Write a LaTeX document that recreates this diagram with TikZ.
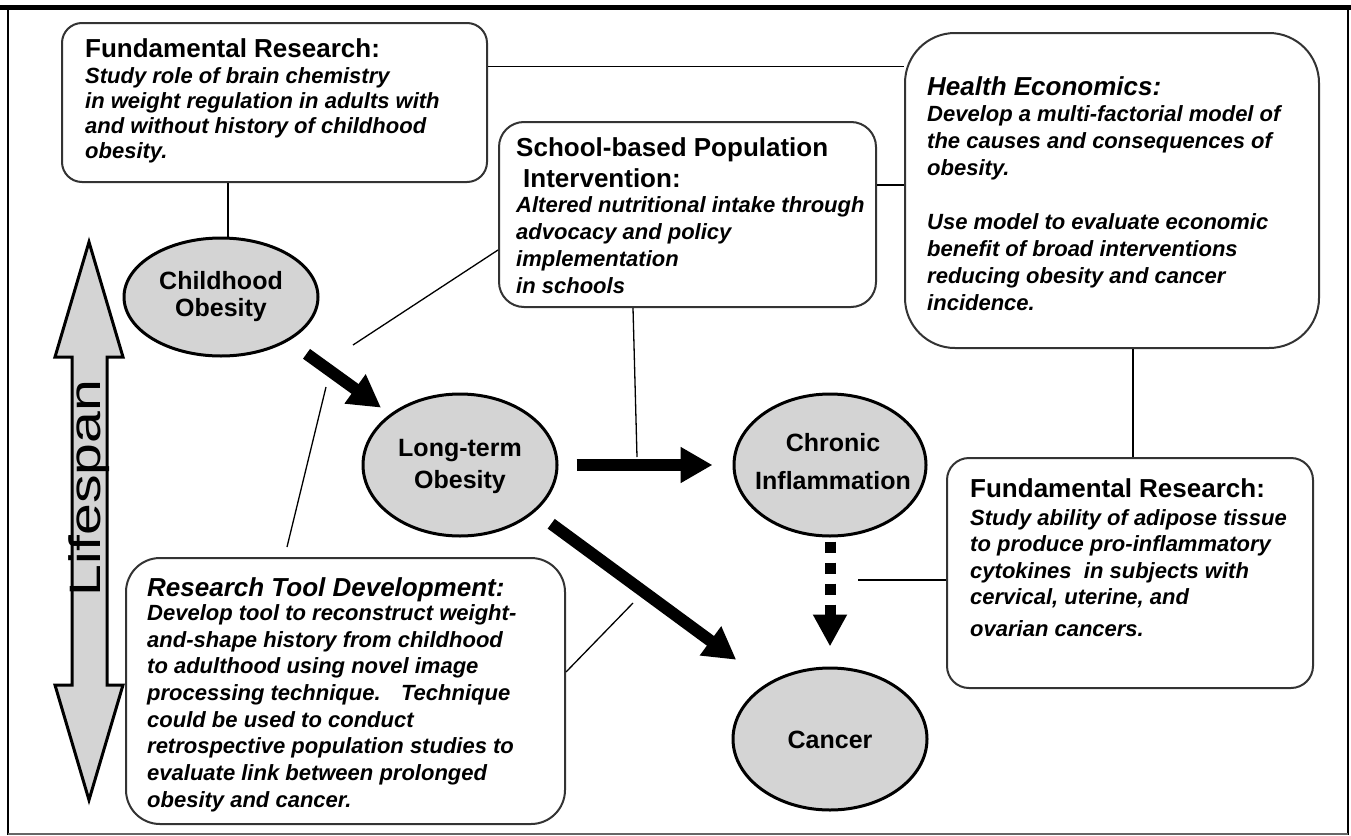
\documentclass[tikz,border=0pt]{standalone}
\usepackage{fontspec}
\setmainfont{Liberation Sans}
\usetikzlibrary{shapes.geometric,arrows.meta}
\begin{document}
\begin{tikzpicture}[x=1pt,y=-1pt,
  box/.style={draw=black!80, line width=2pt, fill=white, rounded corners=#1, inner sep=0pt},
  box/.default=22pt,
  oval/.style={ellipse, draw=black, line width=3pt, fill=black!17, inner sep=0pt},
  otext/.style={align=center, inner sep=0pt, font=\fontsize{25}{27}\selectfont\bfseries},
  body/.style={anchor=north west, inner sep=0pt, align=left},
  thin/.style={draw=black, line width=1.3pt},
  bigarrow/.style={line width=12pt, -{Triangle[length=32pt,width=34pt]}},
  dasharrow/.style={line width=11pt, dash pattern=on 11pt off 10pt, -{Triangle[length=32pt,width=32pt]}},
]
\useasboundingbox (0,0) rectangle (1351,835);
\fill[white] (0,0) rectangle (1351,835);
% frame
\draw[line width=5pt] (0,7.5) -- (1351,7.5);
\draw[line width=2pt] (8,7.5) -- (8,835);
\draw[line width=2pt] (1348,7.5) -- (1348,835);
\draw[line width=1.5pt, black!60] (8,834) -- (1348,834);

% lifespan arrow
\draw[line width=3pt, fill=black!17, line join=miter] (89,242) -- (123,357) -- (107,357) -- (107,685) -- (123,685) -- (89,800) -- (55,685) -- (72,685) -- (72,357) -- (55,357) -- cycle;
\node[rotate=90, inner sep=0pt, font=\fontsize{44}{44}\selectfont] (ls) at (89,488) {\scalebox{1.3}[1]{Lifespan}};

% boxes
\node[box=20pt, minimum width=425pt, minimum height=159pt] (fr1) at (274.5,102.5) {};
\node[box=25pt, minimum width=377pt, minimum height=185pt] (sch) at (687.5,214.5) {};
\node[box=50pt, minimum width=414pt, minimum height=315pt] (he) at (1112,190.5) {};
\node[box=22pt, minimum width=366pt, minimum height=230pt] (fr3) at (1130,573) {};
\node[box=34pt, minimum width=439pt, minimum height=266pt] (rtd) at (345.5,691) {};

% box texts
\node[body, font=\fontsize{22}{25}\selectfont\bfseries\itshape] (fr1t) at (85,38.5)
  {{\fontsize{26}{25}\selectfont\upshape Fundamental Research:}\\[1pt]
   Study role of brain chemistry\\
   in weight regulation in adults with\\
   and without history of childhood\\
   obesity.};
\node[body, font=\fontsize{22}{27}\selectfont\bfseries\itshape] (scht) at (516,137.4)
  {{\fontsize{26}{27}\selectfont\upshape School-based Population}\\[4pt]
   {\fontsize{26}{27}\selectfont\upshape\hspace{7pt}Intervention:}\\[-2pt]
   Altered nutritional intake through\\
   advocacy and policy\\
   implementation\\
   in schools};
\node[body, font=\fontsize{22}{27}\selectfont\bfseries\itshape] (het) at (927,76.4)
  {{\fontsize{26}{27}\selectfont Health Economics:}\\[-1pt]
   Develop a multi-factorial model of\\
   the causes and consequences of\\
   obesity.\\[27pt]
   Use model to evaluate economic\\
   benefit of broad interventions\\
   reducing obesity and cancer\\
   incidence.};
\node[body, font=\fontsize{22}{26.5}\selectfont\bfseries\itshape] (fr3t) at (970,478.4)
  {{\fontsize{26}{26.5}\selectfont\upshape Fundamental Research:}\\[1.5pt]
   Study ability of adipose tissue\\
   to produce pro-inflammatory\\
   cytokines~ in subjects with\\
   cervical, uterine, and\\[5.5pt]
   ovarian cancers.};
\node[body, font=\fontsize{22}{26.7}\selectfont\bfseries\itshape] (rtdt) at (147,577.4)
  {{\fontsize{26}{26.7}\selectfont Research Tool Development:}\\[-2.7pt]
   Develop tool to reconstruct weight-\\
   and-shape history from childhood\\
   to adulthood using novel image\\
   processing technique.~~ Technique\\
   could be used to conduct\\
   retrospective population studies to\\
   evaluate link between prolonged\\
   obesity and cancer.};

% ellipses
\node[oval, minimum width=194pt, minimum height=118pt] (chi) at (221,297) {};
\node[oval, minimum width=194pt, minimum height=142pt] (lto) at (460,465) {};
\node[oval, minimum width=192pt, minimum height=142pt] (chr) at (830,465) {};
\node[oval, minimum width=194pt, minimum height=142pt] (can) at (830,739) {};
\node[otext] (chit) at (221,296.9) {Childhood\\Obesity};
\node[otext] (ltot) at (460,466.4) {Long-term\\[5pt]Obesity};
\node[otext] (chrt) at (833,462) {Chronic\\[11pt]Inflammation};
\node[otext] (cant) at (830,740) {Cancer};

% free ends
\coordinate (c1) at (637,457);
\coordinate (c2) at (353,345);
\coordinate (c3) at (287,547);
\coordinate (c4) at (326,387);
\coordinate (c5) at (633,603);
\coordinate (c6) at (858,580);

% thin connectors
\draw[thin] (228,0 |- fr1.south) -- (228,0 |- chi.north);
\draw[thin] (fr1.east |- 0,66.5) -- (he.west |- 0,66.5);
\draw[thin] (sch.east |- 0,185) -- (he.west |- 0,185);
\draw[thin] (633,0 |- sch.south) -- (c1);
\draw[thin] (sch.west |- 0,250) -- (c2);
\draw[thin] (c3) -- (c4);
\draw[thin] (rtd.east |- 0,672) -- (c5);
\draw[thin] (1133,0 |- he.south) -- (1133,0 |- fr3.north);
\draw[thin] (fr3.west |- c6) -- (c6);

% main arrows
\draw[bigarrow, shorten <=22pt, shorten >=11pt] (chi.-33) -- (lto.144);
\draw[bigarrow, shorten <=18pt, shorten >=20pt] (lto.east) -- (chr.west);
\draw[bigarrow, shorten <=20pt, shorten >=39pt] (lto.-32) -- (can.138);
\draw[dasharrow, shorten <=4pt, shorten >=20pt] (chr.south) -- (can.north);
\end{tikzpicture}
\end{document}
